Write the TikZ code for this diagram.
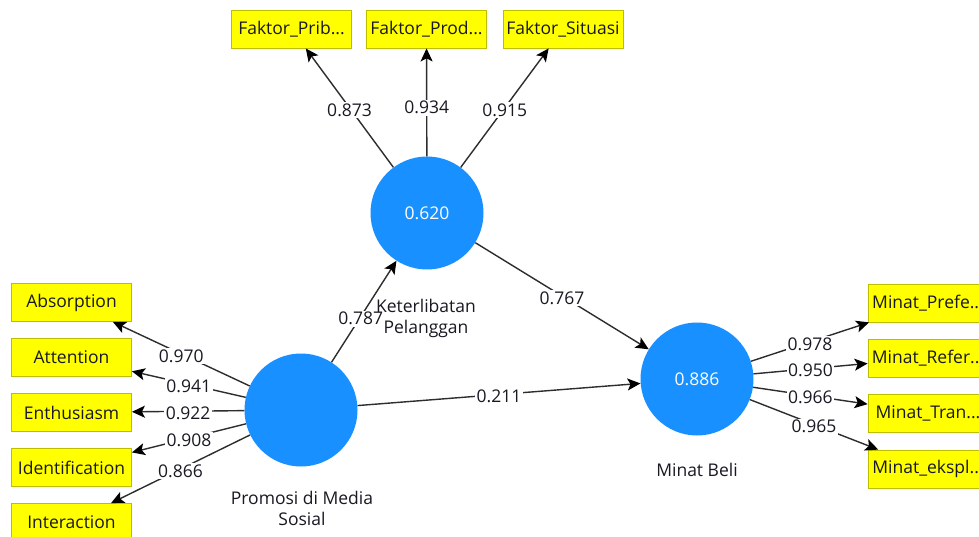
\documentclass[tikz,border=0pt]{standalone}
\usepackage{fontspec}
\setmainfont{Open Sans}
\usetikzlibrary{arrows.meta}
\definecolor{lvblue}{RGB}{24,144,255}
\definecolor{boxyel}{RGB}{255,255,0}
\definecolor{boxedge}{RGB}{190,190,0}
\definecolor{linecol}{RGB}{45,45,45}
\definecolor{txtcol}{RGB}{25,25,35}
\tikzset{
  ind/.style={draw=boxedge, line width=0.8pt, fill=boxyel, minimum width=120pt, minimum height=38pt, inner sep=0pt, text=txtcol, font=\fontsize{17.5}{21}\selectfont},
  lv/.style={circle, fill=lvblue, draw=none, minimum size=113pt, inner sep=0pt, text=white, font=\fontsize{17.5}{21}\selectfont},
  conn/.style={draw=linecol, line width=1.4pt, -{Stealth[length=13pt,width=12pt,inset=3pt,color=black,fill=black]}},
  lbl/.style={fill=white, inner sep=1.5pt, yshift=-2pt, text=txtcol, font=\fontsize{17.5}{21}\selectfont},
  lvname/.style={text=txtcol, font=\fontsize{17.5}{21}\selectfont, align=center}
}
\begin{document}
\begin{tikzpicture}[x=1pt,y=-1pt]
\useasboundingbox (0,0) rectangle (979,537);
\fill[white] (0,0) rectangle (979,537);
\clip (0,0) rectangle (979,537);
% latent variables
\node[lv] (K) at (427,213) {0.620};
\node[lv] (P) at (301,410) {};
\node[lv] (M) at (697,379) {0.886};
% indicators top
\node[ind] (F1) at (291.5,29) {Faktor\_Prib...};
\node[ind] (F2) at (426.5,29) {Faktor\_Prod...};
\node[ind] (F3) at (563,29) {Faktor\_Situasi};
% indicators left
\node[ind] (A1) at (71.5,302.5) {Absorption};
\node[ind] (A2) at (71.5,357.5) {Attention};
\node[ind] (A3) at (71.5,412.5) {Enthusiasm};
\node[ind] (A4) at (71.5,467.5) {Identification};
\node[ind] (A5) at (71.5,522.5) {Interaction};
% indicators right
\node[ind] (R1) at (928,303) {Minat\_Prefe...};
\node[ind] (R2) at (928,358) {Minat\_Refer...};
\node[ind] (R3) at (928,413) {Minat\_Tran...};
\node[ind] (R4) at (928,469) {Minat\_ekspl...};
% connectors
\draw[conn] (K) -- node[lbl] {0.873} (F1);
\draw[conn] (K) -- node[lbl,pos=0.47] {0.934} (F2);
\draw[conn] (K) -- node[lbl] {0.915} (F3);
\draw[conn] (P) -- node[lbl] {0.970} (A1);
\draw[conn] (P) -- node[lbl] {0.941} (A2);
\draw[conn] (P) -- node[lbl] {0.922} (A3);
\draw[conn] (P) -- node[lbl] {0.908} (A4);
\draw[conn] (P) -- node[lbl] {0.866} (A5);
\draw[conn] (M) -- node[lbl] {0.978} (R1);
\draw[conn] (M) -- node[lbl] {0.950} (R2);
\draw[conn] (M) -- node[lbl] {0.966} (R3);
\draw[conn] (M) -- node[lbl] {0.965} (R4);
\draw[conn] (P) -- node[lbl,pos=0.45] {0.787} (K);
\draw[conn] (K) -- node[lbl] {0.767} (M);
\draw[conn] (P) -- node[lbl] {0.211} (M);
% latent names
\node[lvname] (KN) at (426,318) {Keterlibatan\\[0pt]Pelanggan};
\node[lvname] (PN) at (302,508) {Promosi di Media\\[0pt]Sosial};
\node[lvname] (MN) at (697,470) {Minat Beli};
\end{tikzpicture}
\end{document}
